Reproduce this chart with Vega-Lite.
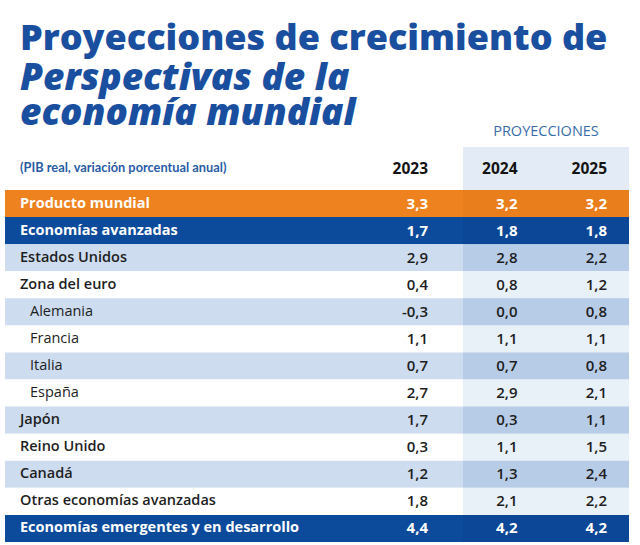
{
  "$schema": "https://vega.github.io/schema/vega-lite/v6.json",
  "width": 624,
  "height": 425,
  "autosize": "none",
  "padding": {"top": 120, "left": 5, "right": 11, "bottom": 0},
  "background": "#ffffff",
  "title": {
    "text": "Proyecciones de crecimiento de",
    "subtitle": ["Perspectivas de la", "economía mundial"],
    "anchor": "start",
    "frame": "group",
    "dx": 15,
    "offset": -13,
    "font": "Open Sans",
    "fontSize": 36,
    "fontWeight": 800,
    "color": "#1a4f9f",
    "subtitleFont": "Open Sans",
    "subtitleFontSize": 37,
    "subtitleFontWeight": 800,
    "subtitleFontStyle": "italic",
    "subtitleColor": "#1a4f9f",
    "subtitleLineHeight": 35,
    "subtitlePadding": 3
  },
  "data": {
    "values": [
      {"region": "Producto mundial", "nivel": 0, "2023": 3.3, "2024": 3.2, "2025": 3.2},
      {"region": "Economías avanzadas", "nivel": 1, "2023": 1.7, "2024": 1.8, "2025": 1.8},
      {"region": "Estados Unidos", "nivel": 2, "2023": 2.9, "2024": 2.8, "2025": 2.2},
      {"region": "Zona del euro", "nivel": 2, "2023": 0.4, "2024": 0.8, "2025": 1.2},
      {"region": "Alemania", "nivel": 3, "2023": -0.3, "2024": 0.0, "2025": 0.8},
      {"region": "Francia", "nivel": 3, "2023": 1.1, "2024": 1.1, "2025": 1.1},
      {"region": "Italia", "nivel": 3, "2023": 0.7, "2024": 0.7, "2025": 0.8},
      {"region": "España", "nivel": 3, "2023": 2.7, "2024": 2.9, "2025": 2.1},
      {"region": "Japón", "nivel": 2, "2023": 1.7, "2024": 0.3, "2025": 1.1},
      {"region": "Reino Unido", "nivel": 2, "2023": 0.3, "2024": 1.1, "2025": 1.5},
      {"region": "Canadá", "nivel": 2, "2023": 1.2, "2024": 1.3, "2025": 2.4},
      {"region": "Otras economías avanzadas", "nivel": 2, "2023": 1.8, "2024": 2.1, "2025": 2.2},
      {"region": "Economías emergentes y en desarrollo", "nivel": 1, "2023": 4.4, "2024": 4.2, "2025": 4.2}
    ]
  },
  "transform": [{"window": [{"op": "row_number", "as": "n"}]}],
  "layer": [
    {
      "mark": {"type": "rect"},
      "encoding": {
        "y": {"field": "region", "type": "nominal", "sort": null, "axis": null,
              "scale": {"range": [70, 422], "paddingInner": 0, "paddingOuter": 0}},
        "fill": {
          "condition": [
            {"test": "datum.nivel == 0", "value": "#ee821e"},
            {"test": "datum.nivel == 1", "value": "#0c4b9b"},
            {"test": "datum.n % 2 == 1", "value": "#cddcee"}
          ],
          "value": "#ffffff"
        }
      }
    },
    {
      "transform": [{"fold": ["2024", "2025"], "as": ["anio", "valor"]}],
      "mark": {"type": "rect"},
      "encoding": {
        "y": {"field": "region", "type": "nominal", "sort": null},
        "x": {"field": "anio", "type": "ordinal", "axis": null,
              "scale": {"type": "band", "domain": ["2023", "2024", "2025"], "range": [375, 624], "paddingInner": 0, "paddingOuter": 0}},
        "fill": {
          "condition": [
            {"test": "datum.nivel == 0", "value": "#e97e1c"},
            {"test": "datum.nivel == 1", "value": "#0b4796"},
            {"test": "datum.n % 2 == 1", "value": "#b7cce6"}
          ],
          "value": "#e8f0f8"
        }
      }
    },
    {
      "transform": [{"filter": "datum.n == 1"}, {"fold": ["2024", "2025"], "as": ["anio", "valor"]}],
      "mark": {"type": "rect", "fill": "#e3ecf6", "yOffset": -43, "y2Offset": -43},
      "encoding": {
        "y": {"field": "region", "type": "nominal", "sort": null},
        "x": {"field": "anio", "type": "ordinal", "axis": null,
              "scale": {"type": "band", "domain": ["2023", "2024", "2025"], "range": [375, 624], "paddingInner": 0, "paddingOuter": 0}}
      }
    },
    {
      "transform": [{"filter": "datum.n == 1"}, {"fold": ["2024", "2025"], "as": ["anio", "valor"]}],
      "mark": {"type": "rect", "fill": "#e3ecf6", "yOffset": -27, "y2Offset": -27},
      "encoding": {
        "y": {"field": "region", "type": "nominal", "sort": null},
        "x": {"field": "anio", "type": "ordinal", "axis": null,
              "scale": {"type": "band", "domain": ["2023", "2024", "2025"], "range": [375, 624], "paddingInner": 0, "paddingOuter": 0}}
      }
    },
    {
      "transform": [{"filter": "datum.n == 1"}, {"fold": ["2024"], "as": ["anio", "valor"]}],
      "mark": {"type": "text", "align": "center", "baseline": "middle", "dx": 41.5, "dy": -71.5, "font": "Open Sans", "fontSize": 14.5, "fontWeight": 500, "color": "#3a6cab"},
      "encoding": {
        "y": {"field": "region", "type": "nominal", "sort": null},
        "x": {"field": "anio", "type": "ordinal", "axis": null,
              "scale": {"type": "band", "domain": ["2023", "2024", "2025"], "range": [375, 624], "paddingInner": 0, "paddingOuter": 0}},
        "text": {"value": "PROYECCIONES"}
      }
    },
    {
      "transform": [{"filter": "datum.n == 1"}],
      "mark": {"type": "text", "align": "left", "baseline": "middle", "dy": -35.5, "font": "Lato", "fontSize": 12.8, "fontWeight": 700, "color": "#2a5ca6"},
      "encoding": {
        "y": {"field": "region", "type": "nominal", "sort": null},
        "x": {"datum": 2, "type": "quantitative", "axis": null, "scale": {"domain": [2, 3], "range": [15, 25], "clamp": true}},
        "text": {"value": "(PIB real, variación porcentual anual)"}
      }
    },
    {
      "transform": [{"filter": "datum.n == 1"}, {"fold": ["2023", "2024", "2025"], "as": ["anio", "valor"]}],
      "mark": {"type": "text", "align": "right", "baseline": "middle", "dy": -35, "font": "Open Sans", "fontSize": 15.5, "fontWeight": 700, "color": "#141414"},
      "encoding": {
        "y": {"field": "region", "type": "nominal", "sort": null},
        "x": {"field": "anio", "type": "ordinal", "axis": null,
              "scale": {"type": "point", "domain": ["2023", "2024", "2025"], "range": [423, 602], "padding": 0}},
        "text": {"field": "anio"}
      }
    },
    {
      "transform": [{"filter": "datum.nivel <= 1"}],
      "mark": {"type": "text", "align": "left", "baseline": "middle", "font": "Open Sans", "fontSize": 14.5, "fontWeight": 700, "color": "#ffffff"},
      "encoding": {
        "y": {"field": "region", "type": "nominal", "sort": null},
        "x": {"field": "nivel", "type": "quantitative", "axis": null, "scale": {"domain": [2, 3], "range": [15, 25], "clamp": true}},
        "text": {"field": "region"}
      }
    },
    {
      "transform": [{"filter": "datum.nivel == 2"}],
      "mark": {"type": "text", "align": "left", "baseline": "middle", "font": "Open Sans", "fontSize": 14.5, "fontWeight": 600, "color": "#1e1e1e"},
      "encoding": {
        "y": {"field": "region", "type": "nominal", "sort": null},
        "x": {"field": "nivel", "type": "quantitative", "axis": null, "scale": {"domain": [2, 3], "range": [15, 25], "clamp": true}},
        "text": {"field": "region"}
      }
    },
    {
      "transform": [{"filter": "datum.nivel == 3"}],
      "mark": {"type": "text", "align": "left", "baseline": "middle", "font": "Open Sans", "fontSize": 14.5, "fontWeight": 400, "color": "#1e1e1e"},
      "encoding": {
        "y": {"field": "region", "type": "nominal", "sort": null},
        "x": {"field": "nivel", "type": "quantitative", "axis": null, "scale": {"domain": [2, 3], "range": [15, 25], "clamp": true}},
        "text": {"field": "region"}
      }
    },
    {
      "transform": [{"filter": "datum.nivel <= 1"}, {"fold": ["2023", "2024", "2025"], "as": ["anio", "valor"]}],
      "mark": {"type": "text", "align": "right", "baseline": "middle", "font": "Open Sans", "fontSize": 15, "fontWeight": 700, "color": "#ffffff"},
      "encoding": {
        "y": {"field": "region", "type": "nominal", "sort": null},
        "x": {"field": "anio", "type": "ordinal", "axis": null,
              "scale": {"type": "point", "domain": ["2023", "2024", "2025"], "range": [423, 602], "padding": 0}},
        "text": {"field": "valor", "type": "quantitative", "format": ".1f"}
      }
    },
    {
      "transform": [{"filter": "datum.nivel >= 2"}, {"fold": ["2023", "2024", "2025"], "as": ["anio", "valor"]}],
      "mark": {"type": "text", "align": "right", "baseline": "middle", "font": "Open Sans", "fontSize": 15, "fontWeight": 600, "color": "#1e1e1e"},
      "encoding": {
        "y": {"field": "region", "type": "nominal", "sort": null},
        "x": {"field": "anio", "type": "ordinal", "axis": null,
              "scale": {"type": "point", "domain": ["2023", "2024", "2025"], "range": [423, 602], "padding": 0}},
        "text": {"field": "valor", "type": "quantitative", "format": ".1f"}
      }
    }
  ],
  "resolve": {"scale": {"x": "independent"}},
  "config": {
    "view": {"stroke": null},
    "locale": {"number": {"decimal": ",", "thousands": ".", "grouping": [3], "currency": ["", " €"], "minus": "-"}}
  }
}
